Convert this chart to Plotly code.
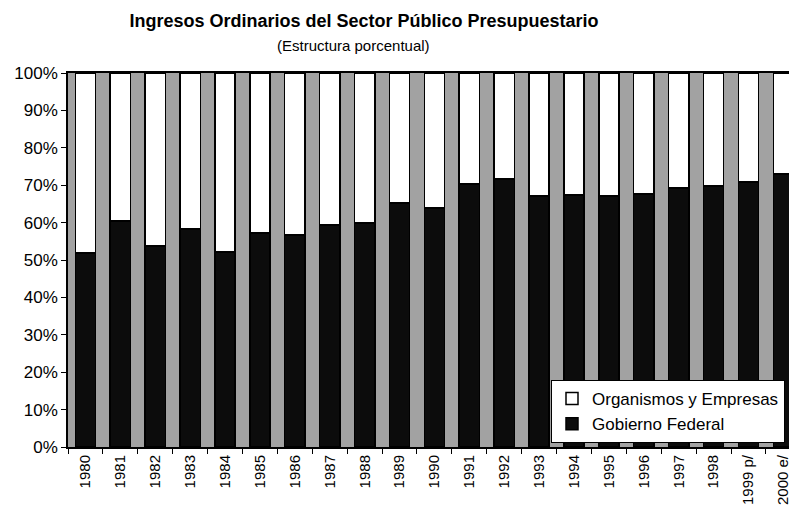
import plotly.graph_objects as go

categories = ["1980", "1981", "1982", "1983", "1984", "1985", "1986", "1987", "1988", "1989",
              "1990", "1991", "1992", "1993", "1994", "1995", "1996", "1997", "1998", "1999 p/", "2000 e/"]
gobierno_federal = [51.9, 60.4, 53.7, 58.3, 52.1, 57.2, 56.7, 59.4, 59.9, 65.2,
                    63.9, 70.3, 71.7, 67.1, 67.4, 67.1, 67.6, 69.2, 69.8, 70.9, 73.0]
organismos_empresas = [48.1, 39.6, 46.3, 41.7, 47.9, 42.8, 43.3, 40.6, 40.1, 34.8,
                       36.1, 29.7, 28.3, 32.9, 32.6, 32.9, 32.4, 30.8, 30.2, 29.1, 27.0]
y_ticks = [0, 10, 20, 30, 40, 50, 60, 70, 80, 90, 100]

# the page body has an 8px margin, so the figure is sized to fit the remaining window
W, H = 789, 498
L, T, B = 60, 65, 59
PH = H - T - B

fig = go.Figure()
fig.add_trace(go.Bar(
    x=categories, y=gobierno_federal, name="Gobierno Federal",
    marker=dict(color="#0c0c0c", line=dict(color="black", width=1.5)),
))
fig.add_trace(go.Bar(
    x=categories, y=organismos_empresas, name="Organismos y Empresas",
    marker=dict(color="white", line=dict(color="black", width=1.5)),
))

font_family = "Liberation Sans, Arial, sans-serif"

fig.update_layout(
    template="none",
    width=W, height=H,
    barmode="stack", bargap=0.42,
    paper_bgcolor="white", plot_bgcolor="#a2a2a2",
    margin=dict(l=L, r=0, t=T, b=B, autoexpand=False),
    font=dict(family=font_family, color="black", size=15),
    title=dict(text="<b>Ingresos Ordinarios del Sector Público Presupuestario</b>",
               x=356 / W, xanchor="center", y=1 - 13 / H, yanchor="middle",
               font=dict(size=18, family=font_family, color="black")),
    showlegend=True,
    legend=dict(x=(543 - L) / 729, y=4 / PH, xanchor="left", yanchor="bottom",
                bgcolor="white", bordercolor="black", borderwidth=1,
                font=dict(size=17, family=font_family), traceorder="reversed",
                itemwidth=30, tracegroupgap=0),
    xaxis=dict(type="category", range=[-0.5, 20.39], tickson="boundaries",
               ticks="outside", ticklen=5, tickcolor="black", tickangle=-90,
               showline=True, linecolor="black", linewidth=2, mirror=True,
               showgrid=False, automargin=False, tickfont=dict(size=15)),
    yaxis=dict(range=[0, 100], tickvals=y_ticks, ticktext=[f"{v}%" for v in y_ticks],
               ticks="outside", ticklen=5, tickcolor="black",
               showline=True, linecolor="black", linewidth=1.5,
               showgrid=False, zeroline=False, automargin=False, tickfont=dict(size=17)),
)
fig.add_annotation(text="(Estructura porcentual)", xref="paper", yref="paper",
                   x=(345 - L) / 729, y=1 + (T - 38) / PH, xanchor="center", yanchor="middle",
                   showarrow=False, font=dict(size=15, family=font_family, color="black"))

fig.write_html("out.html")
